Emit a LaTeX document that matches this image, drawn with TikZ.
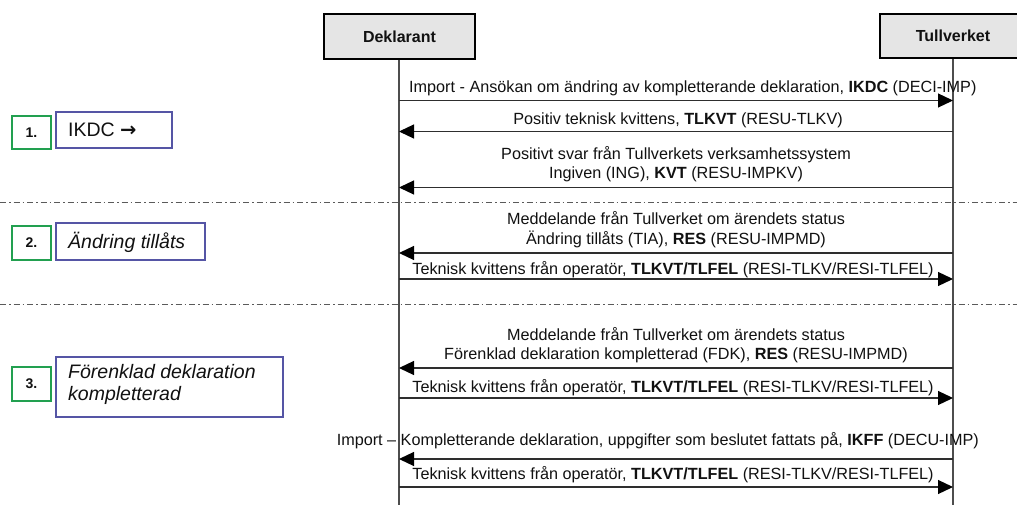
\documentclass[tikz,border=0pt]{standalone}
\usepackage{fontspec}
\setmainfont{Liberation Sans}
\newfontfamily\symfont{DejaVu Sans}
\usetikzlibrary{arrows.meta}
\definecolor{hdrfill}{HTML}{E5E5E5}
\definecolor{lifecol}{HTML}{4D4D4D}
\definecolor{msgcol}{HTML}{2E2E2E}
\definecolor{sepcol}{HTML}{5A5A5A}
\definecolor{numgreen}{RGB}{34,160,80}
\definecolor{labblue}{RGB}{85,85,165}
\definecolor{txtcol}{HTML}{111111}
\tikzset{
  hdr/.style={draw=black, line width=1.8pt, fill=hdrfill, inner sep=0pt,
    font=\fontsize{16}{19}\selectfont\bfseries, text=txtcol},
  lifeline/.style={draw=lifecol, line width=1.5pt},
  msgline/.style={draw=msgcol, line width=1.2pt, -{Triangle[length=15pt,width=14pt,color=black,fill=black]}},
  sepline/.style={draw=sepcol, line width=0.9pt, dash pattern=on 6pt off 3pt on 1.5pt off 3pt},
  msgtxt/.style={anchor=base, inner sep=0pt, text=txtcol, font=\fontsize{16.2}{19}\selectfont},
  numbox/.style={draw=numgreen, line width=2pt, inner sep=0pt,
    minimum width=39pt, minimum height=33pt, font=\fontsize{14}{16}\selectfont\bfseries, text=txtcol},
  labbox/.style={draw=labblue, line width=1.1pt, inner sep=0pt},
  labtxt/.style={anchor=base west, inner sep=0pt, text=txtcol, font=\fontsize{19.5}{22}\selectfont},
}
\begin{document}
\begin{tikzpicture}[x=1pt,y=-1pt]
\useasboundingbox (0,0) rectangle (1017,505);
\clip (0,0) rectangle (1017,505);
\fill[white] (0,0) rectangle (1017,505);

% headers
\node[hdr, minimum width=151pt, minimum height=45pt] (dek) at (399.5,36.5) {Deklarant};
\node[hdr, minimum width=146pt, minimum height=44pt] (tul) at (953,36) {Tullverket};
\coordinate (dekend) at (399,506);
\coordinate (tulend) at (953,506);
\draw[lifeline] (dek.south -| dekend) -- (dekend);
\draw[lifeline] (tul.south -| tulend) -- (tulend);

% message end points
\foreach \n/\y in {1/100.5, 2/131.5, 3/187.5, 4/253, 5/279, 6/368, 7/398, 8/459, 9/487}{
  \coordinate (d\n) at (399,\y);
  \coordinate (t\n) at (953,\y);
}

% separators
\coordinate (s1l) at (0,202);  \coordinate (s1r) at (1017,202);
\coordinate (s2l) at (0,304);  \coordinate (s2r) at (1017,304);
\draw[sepline] (s1l) -- (s1r);
\draw[sepline] (s2l) -- (s2r);

% messages
\draw[msgline] (d1) -- (t1);
\node[msgtxt, anchor=base west] (m1) at (409,93) {Import - Ansökan om ändring av kompletterande deklaration, \textbf{IKDC} (DECI-IMP)};

\draw[msgline] (t2) -- (d2);
\node[msgtxt] (m2) at (678,125) {Positiv teknisk kvittens, \textbf{TLKVT} (RESU-TLKV)};

\draw[msgline] (t3) -- (d3);
\node[msgtxt] (m3a) at (676,159.5) {Positivt svar från Tullverkets verksamhetssystem};
\node[msgtxt] (m3b) at (676,178.5) {Ingiven (ING), \textbf{KVT} (RESU-IMPKV)};

\draw[msgline] (t4) -- (d4);
\node[msgtxt] (m4a) at (676,225) {Meddelande från Tullverket om ärendets status};
\node[msgtxt] (m4b) at (676,244) {Ändring tillåts (TIA), \textbf{RES} (RESU-IMPMD)};

\draw[msgline] (d5) -- (t5);
\node[msgtxt] (m5) at (673,274) {Teknisk kvittens från operatör, \textbf{TLKVT/TLFEL} (RESI-TLKV/RESI-TLFEL)};

\draw[msgline] (t6) -- (d6);
\node[msgtxt] (m6a) at (676,340) {Meddelande från Tullverket om ärendets status};
\node[msgtxt] (m6b) at (676,359) {Förenklad deklaration kompletterad (FDK), \textbf{RES} (RESU-IMPMD)};

\draw[msgline] (d7) -- (t7);
\node[msgtxt] (m7) at (673,392) {Teknisk kvittens från operatör, \textbf{TLKVT/TLFEL} (RESI-TLKV/RESI-TLFEL)};

\draw[msgline] (t8) -- (d8);
\node[msgtxt, anchor=base east] (m8) at (979,445) {Import – Kompletterande deklaration, uppgifter som beslutet fattats på, \textbf{IKFF} (DECU-IMP)};

\draw[msgline] (d9) -- (t9);
\node[msgtxt] (m9) at (673,479.5) {Teknisk kvittens från operatör, \textbf{TLKVT/TLFEL} (RESI-TLKV/RESI-TLFEL)};

% step boxes
\node[numbox] (n1) at (31.5,132.5) {1.};
\node[labbox, minimum width=116pt, minimum height=36pt] (b1) at (114,130) {};
\node[labtxt] (l1) at (68,137) {IKDC {\symfont\bfseries →}};

\node[numbox, minimum height=34pt] (n2) at (31.5,243) {2.};
\node[labbox, minimum width=149pt, minimum height=37pt] (b2) at (130.5,241.5) {};
\node[labtxt] (l2) at (68,248) {\itshape Ändring tillåts};

\node[numbox, minimum height=34pt] (n3) at (31.5,384) {3.};
\node[labbox, minimum width=227pt, minimum height=60pt] (b3) at (169.5,387) {};
\node[labtxt] (l3a) at (68,378) {\itshape Förenklad deklaration};
\node[labtxt] (l3b) at (68,400) {\itshape kompletterad};
\end{tikzpicture}
\end{document}
